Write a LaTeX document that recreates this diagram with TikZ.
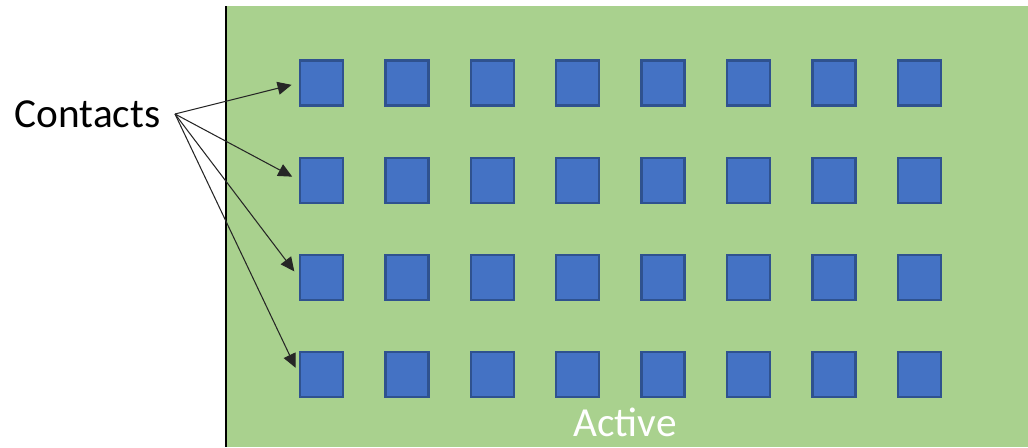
\documentclass[tikz,border=0pt]{standalone}
\usepackage{fontspec}
\setmainfont{Carlito}
\usetikzlibrary{arrows.meta}
\definecolor{activegreen}{RGB}{169,209,142}
\definecolor{contactblue}{RGB}{68,114,196}
\definecolor{contactedge}{RGB}{47,82,143}

\begin{document}
\begin{tikzpicture}[x=0.02cm, y=-0.02cm, >={Triangle[length=0.28cm, width=0.26cm]},
  contact/.style={draw=contactedge, line width=1.3pt, fill=contactblue, minimum width=0.86cm, minimum height=0.9cm, inner sep=0pt},
  lbl/.style={font=\fontsize{23.5}{28}\selectfont, inner sep=0.2cm}]
  \useasboundingbox (0,0) rectangle (1028,447);
  \fill[activegreen] (226,6) rectangle (1028,447);
  \draw[line width=1.6pt] (226,6) -- (226,447);
  \foreach \r in {1,...,4}
    \foreach \c in {1,...,8}
      \node[contact] (c-\r-\c) at ({321.5+85.4*(\c-1)}, {83+97.2*(\r-1)}) {};
  \node[lbl, anchor=base] (contacts) at (87.5,127) {Contacts};
  \node[lbl, anchor=base, text=white] (active) at (625,436) {Active};
  \coordinate (src) at (175,114);
  \foreach \r in {1,...,4}
    \draw[->, line width=0.6pt, draw=black!85, shorten >=0.15cm] (src) -- (c-\r-1.west);
\end{tikzpicture}
\end{document}
